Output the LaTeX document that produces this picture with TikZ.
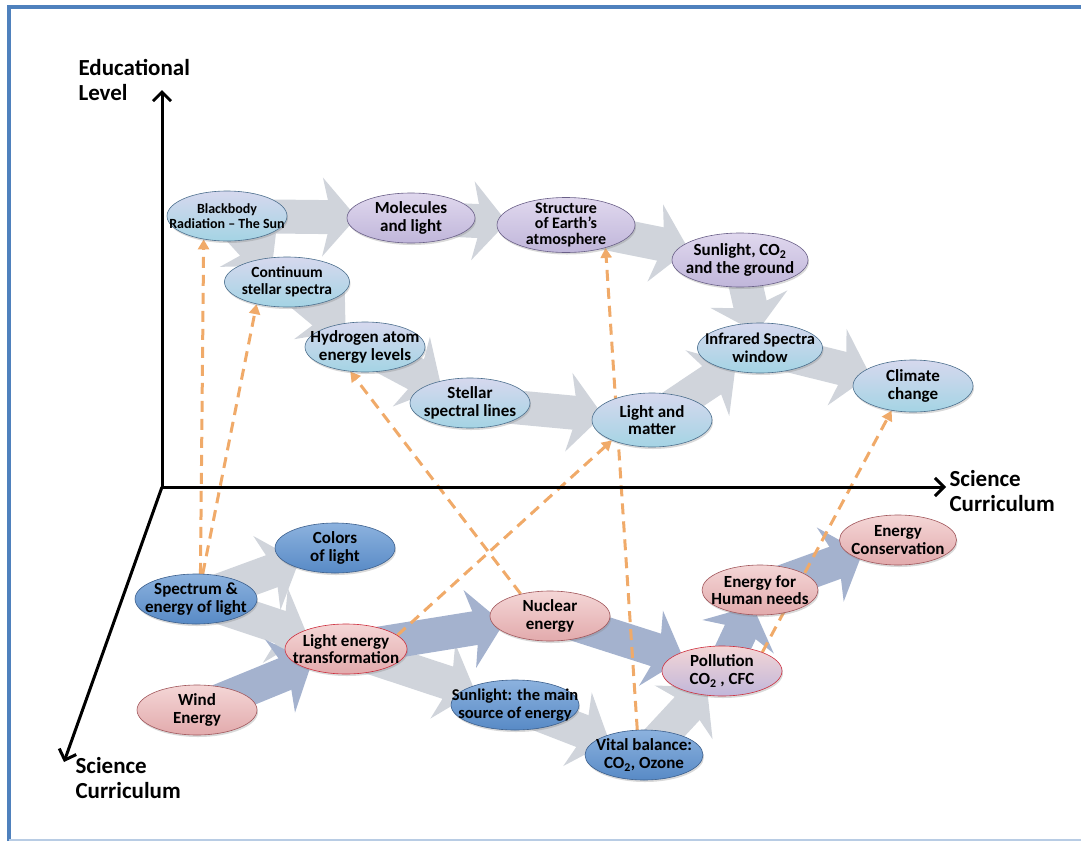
\documentclass[tikz,border=0pt]{standalone}
\usepackage{fontspec}
\setmainfont{Carlito}
\usetikzlibrary{positioning,shapes.geometric,arrows.meta,backgrounds,shadows}

\definecolor{frameblue}{RGB}{79,129,189}
\definecolor{framelight}{RGB}{184,204,228}
\definecolor{lavtop}{RGB}{224,216,238}
\definecolor{lavbot}{RGB}{192,182,218}
\definecolor{lavline}{RGB}{105,95,135}
\definecolor{cyantop}{RGB}{214,216,238}
\definecolor{cyanbot}{RGB}{164,212,228}
\definecolor{cyanline}{RGB}{75,110,140}
\definecolor{bluetop}{RGB}{140,178,222}
\definecolor{bluebot}{RGB}{88,138,198}
\definecolor{blueline}{RGB}{60,95,140}
\definecolor{pinktop}{RGB}{244,214,214}
\definecolor{pinkbot}{RGB}{226,170,172}
\definecolor{pinkline}{RGB}{160,85,90}
\definecolor{redline}{RGB}{205,45,60}
\definecolor{flowgray}{RGB}{208,212,219}
\definecolor{flowblue}{RGB}{164,178,206}
\definecolor{linkorange}{RGB}{240,170,105}

\begin{document}
\begin{tikzpicture}
    [%%%%%%%%%%%%%%%%%%%%%%%%%%%%%%
    x=1pt,y=-1pt,
    bubble/.style={ellipse,draw,semithick,minimum width=120pt,minimum height=50pt,inner xsep=-18pt,inner ysep=-8pt,align=center,
        font=\fontsize{17}{17.5}\selectfont\bfseries,
        drop shadow={opacity=0.3,shadow xshift=1pt,shadow yshift=-2pt}},
    lavbox/.style={bubble,draw=lavline,top color=lavtop,bottom color=lavbot},
    cyanbox/.style={bubble,draw=cyanline,top color=cyantop,bottom color=cyanbot},
    bluebox/.style={bubble,draw=blueline,top color=bluetop,bottom color=bluebot},
    pinkbox/.style={bubble,draw=pinkline,top color=pinktop,bottom color=pinkbot},
    flow/.style={line width=34pt,draw=flowgray,shorten <=-25pt,shorten >=-10pt,-{Stealth[width=78pt,length=34pt,inset=9pt]}},
    flowdark/.style={flow,draw=flowblue},
    link/.style={draw=linkorange,line width=3pt,dash pattern=on 11pt off 7pt,-{Triangle[width=11pt,length=10pt]}},
    axis/.style={line width=3pt,-{Straight Barb[length=9pt,width=18pt]}},
    axislabel/.style={align=left,font=\fontsize{23}{25}\selectfont\bfseries},
    ]%%%%%%%%%%%%%%%%%%%%%%%%%%%%%%

    \useasboundingbox (0,0) rectangle (1081,841);

    % frame
    \draw[frameblue,line width=4pt] (9,841) -- (9,7) -- (1081,7);
    \draw[framelight,line width=1.5pt] (9,840) -- (1081,840);

    % axes
    \coordinate (origin) at (162,487);
    \coordinate (leveltop) at (162,90);
    \coordinate (currend) at (946,487);
    \coordinate (depthend) at (64,762);
    \draw[axis] (origin) -- (leveltop);
    \draw[axis] (origin) -- (currend);
    \draw[axis] (origin) -- (depthend);
    \node[axislabel,anchor=north west] at (75,56) (level_text) {Educational\\Level};
    \node[axislabel,anchor=west] at (946,491) (curr_text) {Science\\Curriculum};
    \node[axislabel,anchor=north west] at (72,754) (depth_text) {Science\\Curriculum};

    % upper plane
    \node[cyanbox,font=\fontsize{14}{15}\selectfont\bfseries] at (227,216) (blackbody) {Blackbody\\Radiation -- The Sun};
    \node[lavbox,minimum width=128pt] at (411,218) (molecules) {Molecules\\and light};
    \node[lavbox,minimum width=138pt,minimum height=55pt,font=\fontsize{16}{15.5}\selectfont\bfseries] at (566,225) (structure) {Structure\\of Earth’s\\atmosphere};
    \node[lavbox,minimum width=136pt,minimum height=54pt] at (740,260) (sunco) {Sunlight, CO\textsubscript{2}\\and the ground};
    \node[cyanbox,minimum width=125pt,font=\fontsize{15.5}{17.5}\selectfont\bfseries] at (287,282) (continuum) {Continuum\\stellar spectra};
    \node[cyanbox] at (365,347) (hydrogen) {Hydrogen atom\\energy levels};
    \node[cyanbox] at (470,403) (stellar) {Stellar\\spectral lines};
    \node[cyanbox,minimum height=54pt] at (652,420) (lightmatter) {Light and\\matter};
    \node[cyanbox,minimum width=125pt,font=\fontsize{16.5}{17.5}\selectfont\bfseries] at (760,348) (infrared) {Infrared Spectra\\window};
    \node[cyanbox,minimum height=52pt] at (913,386) (climate) {Climate\\change};

    % lower plane
    \node[bluebox] at (335,548) (colors) {Colors\\of light};
    \node[bluebox,minimum width=122pt] at (196,599) (spectrum) {Spectrum \&\\energy of light};
    \node[pinkbox,draw=redline,minimum width=122pt] at (346,649) (lightenergy) {Light energy\\transformation};
    \node[pinkbox] at (197,710) (wind) {Wind\\Energy};
    \node[pinkbox] at (550,616) (nuclear) {Nuclear\\energy};
    \node[pinkbox,minimum width=116pt] at (760,590) (human) {Energy for\\Human needs};
    \node[pinkbox,minimum width=117pt] at (898,540) (conservation) {Energy\\Conservation};
    \node[pinkbox,draw=redline,bottom color=lavbot] at (722,671) (pollution) {Pollution\\CO\textsubscript{2} , CFC};
    \node[bluebox,minimum width=125pt,font=\fontsize{16.5}{17.5}\selectfont\bfseries] at (515,705) (sunmain) {Sunlight: the main\\source of energy};
    \node[bluebox,minimum width=118pt] at (644,755) (vital) {Vital balance:\\CO\textsubscript{2}, Ozone};

    \begin{scope}[on background layer]
    % flows, upper plane
    \draw[flow] (blackbody) -- (molecules);
    \draw[flow] (molecules) -- (structure);
    \draw[flow] (structure) -- (sunco);
    \draw[flow] (sunco) -- (infrared);
    \draw[flow] (infrared) -- (climate);
    \draw[flow] (blackbody) -- (continuum);
    \draw[flow] (continuum) -- (hydrogen);
    \draw[flow] (hydrogen) -- (stellar);
    \draw[flow] (stellar) -- (lightmatter);
    \draw[flow] (lightmatter) -- (infrared);

    % flows, lower plane
    \draw[flow] (spectrum) -- (colors);
    \draw[flow] (spectrum) -- (lightenergy);
    \draw[flowdark] (wind) -- (lightenergy);
    \draw[flow] (lightenergy) -- (sunmain);
    \draw[flowdark] (lightenergy) -- (nuclear);
    \draw[flowdark] (nuclear) -- (pollution);
    \draw[flow] (sunmain) -- (vital);
    \draw[flow] (vital) -- (pollution);
    \draw[flowdark] (pollution) -- (human);
    \draw[flowdark] (human) -- (conservation);

    % links between the planes
    \draw[link] (spectrum.80) -- (blackbody.225);
    \draw[link] (spectrum.75) -- (continuum.216);
    \draw[link] (nuclear.143) -- (hydrogen.239);
    \draw[link] (lightenergy.15) -- (lightmatter.207);
    \draw[link] (vital.105) -- (structure.330);
    \draw[link] (pollution.25) -- (climate.229);
    \end{scope}

\end{tikzpicture}
\end{document}
